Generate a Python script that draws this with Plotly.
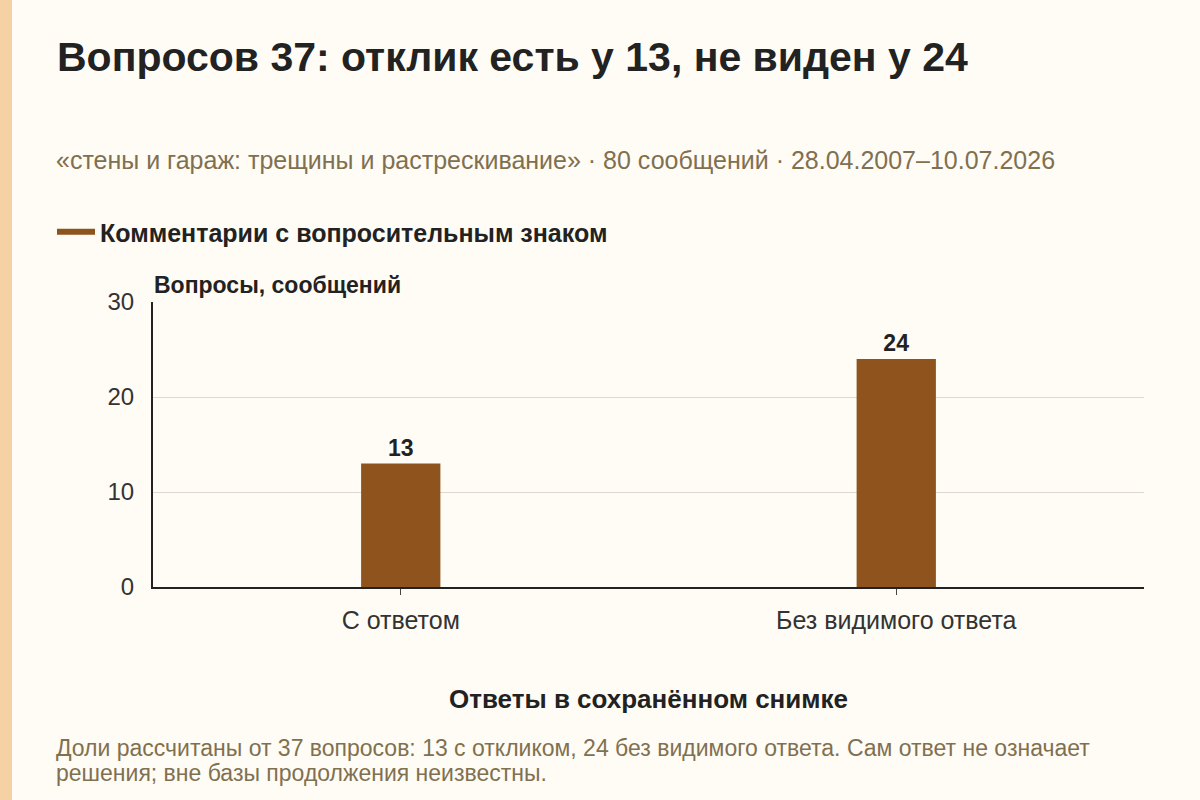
import plotly.graph_objects as go

# --- DATA ---
categories = ["С ответом", "Без видимого ответа"]
question_counts = [13, 24]
y_ticks = [0, 10, 20, 30]

title_text = "Вопросов 37: отклик есть у 13, не виден у 24"
subtitle_text = "«стены и гараж: трещины и растрескивание» · 80 сообщений · 28.04.2007–10.07.2026"
legend_name = "Комментарии с вопросительным знаком"
y_title = "Вопросы, сообщений"
x_title = "Ответы в сохранённом снимке"
note_lines = [
    "Доли рассчитаны от 37 вопросов: 13 с откликом, 24 без видимого ответа. Сам ответ не означает",
    "решения; вне базы продолжения неизвестны.",
]

# --- STYLE ---
BAR = "#8f531e"
BG = "#fffcf5"
STRIP = "#f6d1a3"
INK = "#222222"
MUTED = "#807050"
FONT = "Liberation Sans, Arial, sans-serif"

W, H = 1200, 800
L, R, T, B = 153, 56, 302, 213
PW, PH = W - L - R, H - T - B


def px_x(x):
    return (x - L) / PW


def px_y(y):
    return (H - B - y) / PH


fig = go.Figure()

fig.add_trace(go.Bar(
    x=categories, y=question_counts, width=0.16,
    marker=dict(color=BAR, line=dict(width=0)),
    text=question_counts, textposition="outside",
    textfont=dict(family=FONT, size=23, color=INK, weight="bold"),
    cliponaxis=False, showlegend=False,
))

# legend entry drawn as a short thick line
fig.add_trace(go.Scatter(
    x=[None], y=[None], mode="lines", name=legend_name,
    line=dict(color=BAR, width=6),
))

annotations = [
    dict(text=subtitle_text, x=px_x(54), y=px_y(160), xanchor="left", yanchor="middle",
         font=dict(family=FONT, size=25, color=MUTED)),
    dict(text="<b>" + y_title + "</b>", x=px_x(152), y=px_y(285), xanchor="left", yanchor="middle",
         font=dict(family=FONT, size=23, color=INK)),
    dict(text="<b>" + x_title + "</b>", x=0.5, y=px_y(699), xanchor="center", yanchor="middle",
         font=dict(family=FONT, size=26, color=INK)),
]
for i, line in enumerate(note_lines):
    annotations.append(dict(text=line, x=px_x(54), y=px_y(748 + 25 * i), xanchor="left", yanchor="middle",
                            font=dict(family=FONT, size=23, color=MUTED)))
for a in annotations:
    a.update(xref="paper", yref="paper", showarrow=False)

fig.update_layout(
    width=W, height=H,
    margin=dict(l=L, r=R, t=T, b=B),
    paper_bgcolor=BG, plot_bgcolor=BG,
    font=dict(family=FONT, color=INK),
    title=dict(text="<b>" + title_text + "</b>", x=57 / W, xanchor="left",
               y=1 - 57 / H, yanchor="middle", yref="container",
               font=dict(family=FONT, size=41, color=INK)),
    legend=dict(orientation="h", x=px_x(52), xanchor="left", y=px_y(232), yanchor="middle",
                font=dict(family=FONT, size=25, color=INK, weight="bold"),
                bgcolor="rgba(0,0,0,0)", itemwidth=38),
    annotations=annotations,
    shapes=[dict(type="rect", xref="paper", yref="paper",
                 x0=px_x(0), x1=px_x(12), y0=px_y(H), y1=px_y(0),
                 fillcolor=STRIP, line=dict(width=0), layer="below")],
    bargap=0.5,
)

fig.update_xaxes(
    showline=True, linecolor=INK, linewidth=2,
    ticks="outside", ticklen=6, tickcolor="#444444",
    tickfont=dict(family=FONT, size=25, color="#333333"),
    ticklabelstandoff=4,
    showgrid=False,
)
fig.update_yaxes(
    range=[0, 30], tickvals=y_ticks,
    showline=True, linecolor=INK, linewidth=2,
    showgrid=True, gridcolor="#ddd7cd", gridwidth=1,
    ticks="", tickfont=dict(family=FONT, size=24, color="#333333"),
    ticklabelstandoff=12,
    zeroline=False,
)

fig.write_html("out.html", config={"displayModeBar": False},
               post_script="document.body.style.margin='0';")
